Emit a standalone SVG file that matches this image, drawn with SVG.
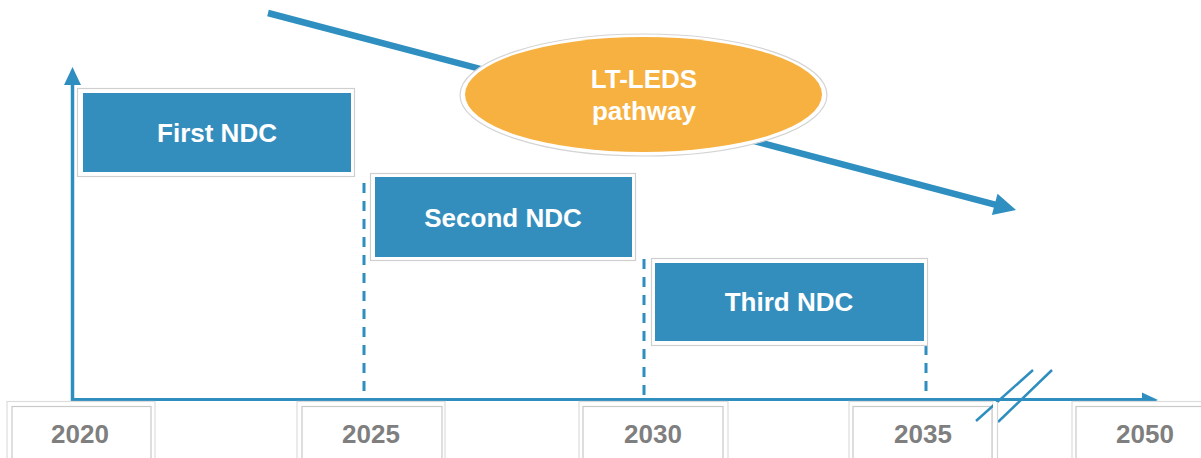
<svg xmlns="http://www.w3.org/2000/svg" width="1201" height="458" viewBox="0 0 1201 458">
<style>
.yo{fill:#fff;stroke:#dcdcdc;stroke-width:1.2}
.yi{fill:#fff;stroke:#c9c9c9;stroke-width:1.2}
.yt{font-family:"Liberation Sans",Arial,sans-serif;font-weight:bold;font-size:26px;fill:#7f7f7f;text-anchor:middle}
.fo{fill:#fff;stroke:#cfcfcf;stroke-width:1.2}
.fb{fill:#348ebd}
.bt{font-family:"Liberation Sans",Arial,sans-serif;font-weight:bold;font-size:26px;fill:#fff;text-anchor:middle}
.ax{stroke:#2f8ec0;fill:none}
.dash{stroke:#2f8ec0;stroke-width:3;stroke-dasharray:10 8;fill:none}
</style>
<rect width="1201" height="458" fill="#fff"/>
<g id="connectors">
  <line class="ax" x1="72.5" y1="401" x2="72.5" y2="82" stroke-width="3.5"/>
  <path d="M72.5,67 L81,85 L64,85 Z" fill="#2f8ec0"/>
  <line class="ax" x1="71" y1="399.5" x2="1145" y2="399.5" stroke-width="3.2"/>
  <path d="M1158,400 L1142,392.5 L1142,407.5 Z" fill="#2f8ec0"/>
  <line class="dash" x1="364" y1="183" x2="364" y2="393"/>
  <line class="dash" x1="644" y1="259" x2="644" y2="395"/>
  <line class="dash" x1="926" y1="345" x2="926" y2="392"/>
  <line x1="268" y1="13" x2="996" y2="204.8" stroke="#2e8fc0" stroke-width="6.5"/>
  <path d="M1016,210 L997.5,193.8 L991.9,215 Z" fill="#2e8fc0"/>
</g>
<g id="year-2020">
  <rect class="yo" x="7" y="401.5" width="148" height="70"/>
  <rect class="yi" x="12" y="406.5" width="139" height="60"/>
  <text class="yt" x="80" y="443">2020</text>
</g>
<g id="year-2025">
  <rect class="yo" x="297" y="401.5" width="148" height="70"/>
  <rect class="yi" x="302" y="406.5" width="140" height="60"/>
  <text class="yt" x="371" y="443">2025</text>
</g>
<g id="year-2030">
  <rect class="yo" x="579" y="401.5" width="149" height="70"/>
  <rect class="yi" x="583" y="406.5" width="140" height="60"/>
  <text class="yt" x="653" y="443">2030</text>
</g>
<g id="year-2035">
  <rect class="yo" x="849" y="401.5" width="144" height="70"/>
  <rect class="yi" x="853" y="406.5" width="139" height="60"/>
  <text class="yt" x="923" y="443">2035</text>
</g>
<g id="year-2050">
  <rect class="yo" x="1072" y="401.5" width="140" height="70"/>
  <rect class="yi" x="1076" y="406.5" width="136" height="60"/>
  <text class="yt" x="1145" y="443">2050</text>
</g>
<g id="axis-break">
  <line x1="976" y1="421" x2="1033" y2="370" stroke="#2f8ec0" stroke-width="2.5"/>
  <line x1="998" y1="422" x2="1052" y2="370" stroke="#2f8ec0" stroke-width="2.5"/>
  <rect x="993" y="402" width="4" height="60" fill="#fff"/>
  <line x1="997.5" y1="402" x2="997.5" y2="458" stroke="#d6d6d6" stroke-width="1.2"/>
</g>
<g id="first-ndc">
  <rect class="fo" x="77.5" y="88.5" width="277" height="88"/>
  <rect class="fb" x="83" y="93" width="268" height="79"/>
  <text class="bt" x="217" y="142">First NDC</text>
</g>
<g id="second-ndc">
  <rect class="fo" x="370.5" y="173.5" width="265" height="87"/>
  <rect class="fb" x="375" y="177" width="257" height="80"/>
  <text class="bt" x="503" y="227">Second NDC</text>
</g>
<g id="third-ndc">
  <rect class="fo" x="651.5" y="258.5" width="276" height="87"/>
  <rect class="fb" x="655" y="263" width="269" height="78"/>
  <text class="bt" x="789" y="311">Third NDC</text>
</g>
<g id="lt-leds">
  <ellipse cx="643.5" cy="95" rx="183.5" ry="61" fill="#fff" stroke="#d4d4d4" stroke-width="1.2"/>
  <ellipse cx="643.5" cy="94.5" rx="178.5" ry="57.5" fill="#f6b141"/>
  <text class="bt" x="644" y="88">LT-LEDS</text>
  <text class="bt" x="644" y="120">pathway</text>
</g>
</svg>
